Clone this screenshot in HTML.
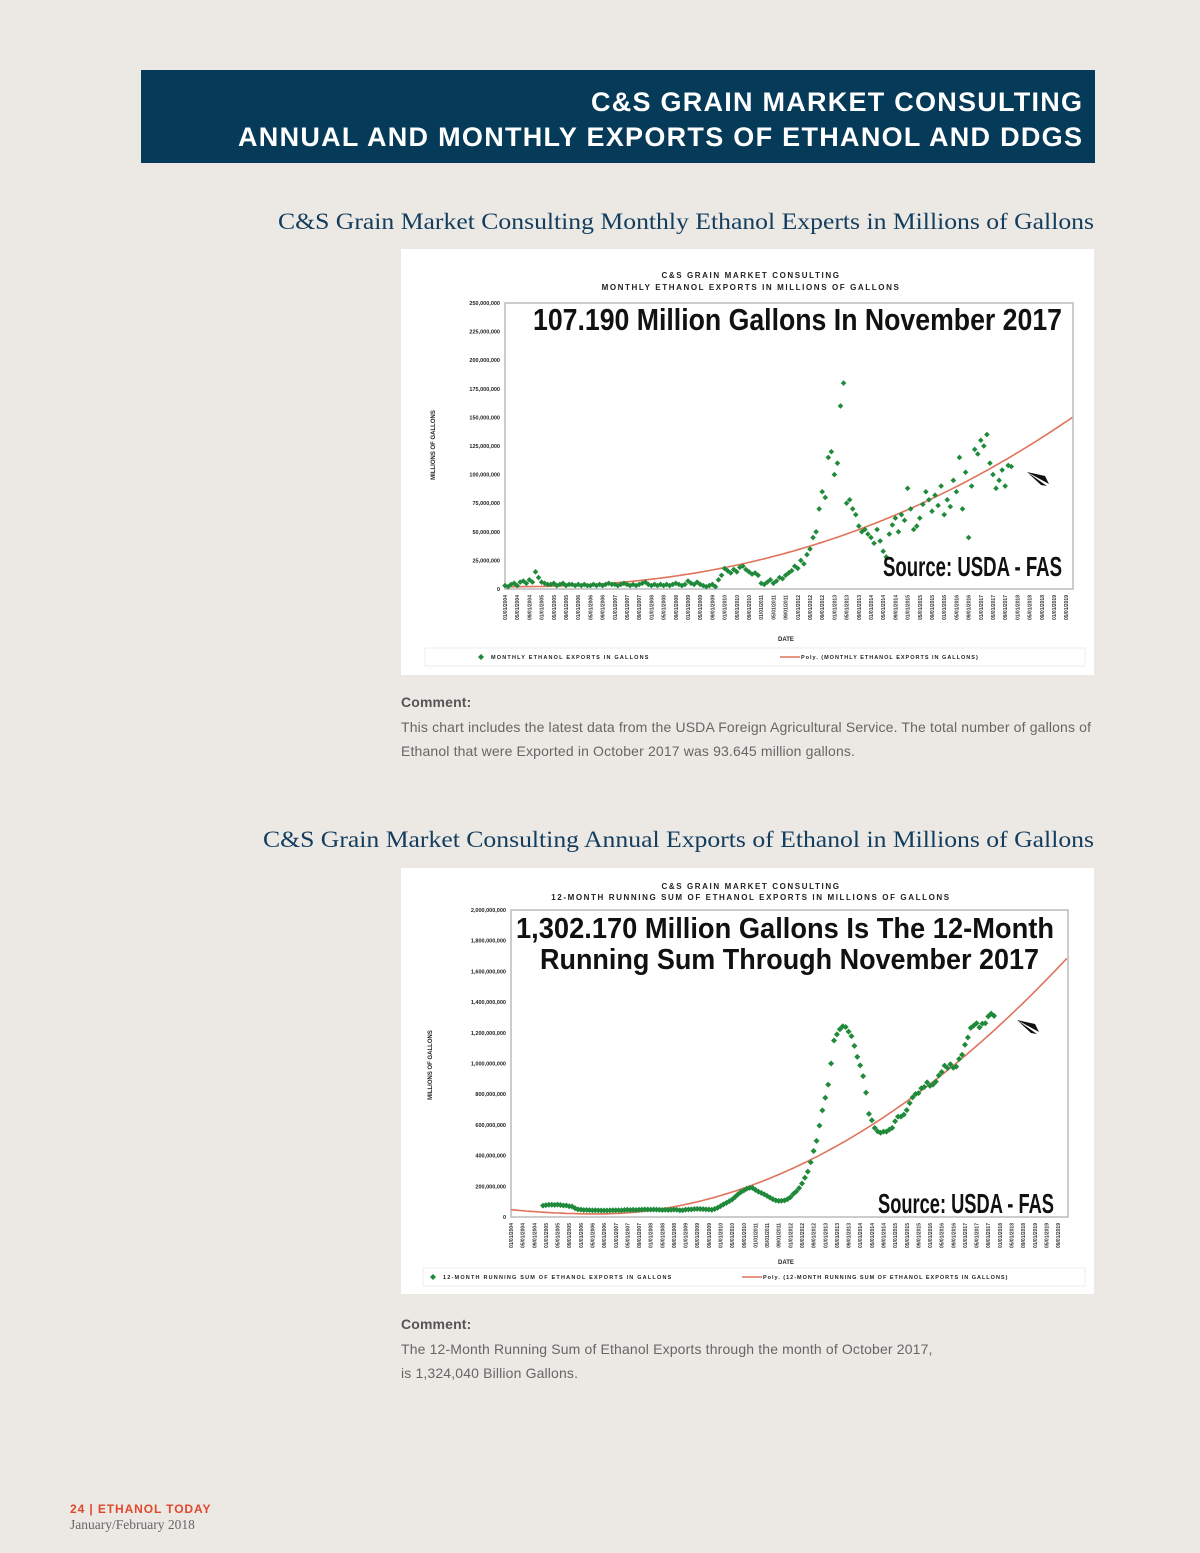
<!DOCTYPE html>
<html><head><meta charset="utf-8">
<style>
body{margin:0;background:#ece9e5;}
#page{position:relative;width:1200px;height:1553px;background:#ece9e5;overflow:hidden;font-family:"Liberation Sans",sans-serif;}
.band{position:absolute;left:141px;top:70px;width:954px;height:93px;background:#053a59;}
.chart{position:absolute;left:401px;width:693px;height:426px;background:#fff;}
.cm{position:absolute;left:401px;font-size:14px;color:#666;line-height:24.5px;letter-spacing:0.15px;}
.cm b{color:#555;}
svg text{font-family:"Liberation Sans",sans-serif;}
</style></head><body>
<div id="page">
<div class="band"></div>
<svg style="position:absolute;left:0;top:0" width="1200" height="260">
 <text x="591" y="111" font-size="27" font-weight="bold" fill="#fff" textLength="491" lengthAdjust="spacing">C&amp;S GRAIN MARKET CONSULTING</text>
 <text x="238" y="146" font-size="27" font-weight="bold" fill="#fff" textLength="844" lengthAdjust="spacing">ANNUAL AND MONTHLY EXPORTS OF ETHANOL AND DDGS</text>
 <text x="278" y="229" font-size="23" fill="#123d5e" style="font-family:'Liberation Serif',serif" textLength="816" lengthAdjust="spacingAndGlyphs">C&amp;S Grain Market Consulting Monthly Ethanol Experts in Millions of Gallons</text>
</svg>
<svg style="position:absolute;left:0;top:800px" width="1200" height="60">
 <text x="263" y="47" font-size="23" fill="#123d5e" style="font-family:'Liberation Serif',serif" textLength="831" lengthAdjust="spacingAndGlyphs">C&amp;S Grain Market Consulting Annual Exports of Ethanol in Millions of Gallons</text>
</svg>
<div class="chart" style="top:249px"><svg id="c1" width="693" height="426"></svg></div>
<div class="cm" style="top:690px;width:700px"><b>Comment:</b><br>This chart includes the latest data from the USDA Foreign Agricultural Service. The total number of gallons of Ethanol that were Exported in October 2017 was 93.645 million gallons.</div>
<div class="chart" style="top:868px"><svg id="c2" width="693" height="426"></svg></div>
<div class="cm" style="top:1312px;width:700px"><b>Comment:</b><br>The 12-Month Running Sum of Ethanol Exports through the month of October 2017,<br>is 1,324,040 Billion Gallons.</div>
<div style="position:absolute;left:70px;top:1502px;color:#e0482c;font-weight:bold;font-size:12px;letter-spacing:0.9px">24 | ETHANOL TODAY</div>
<div style="position:absolute;left:70px;top:1517px;color:#666;font-family:'Liberation Serif',serif;font-size:13.5px">January/February 2018</div>
</div>
<script>
// monthly exports, millions of gallons, Jan 2004 .. Nov 2017
const monthly = [
3,2,4,5,3,6,7,5,8,6,15,10,
6,5,4,4,5,3,4,5,3,4,4,3,
4,3,4,3,3,4,3,4,3,4,5,4,
4,3,4,5,4,3,4,3,4,5,6,4,
3,4,3,4,3,4,3,4,5,4,3,4,
7,5,4,6,4,3,2,3,4,2,8,12,
18,16,14,17,15,19,20,17,15,13,14,12,
5,4,6,8,5,7,10,9,12,14,16,20,
18,25,22,30,35,45,50,70,85,80,115,120,
100,110,160,180,75,78,70,65,55,50,52,48,
45,40,52,42,33,28,48,56,62,50,65,60,
88,70,52,55,62,74,85,78,68,82,73,90,
65,78,72,95,85,115,70,102,45,90,122,118,
130,125,135,110,100,88,95,104,90,108,107];
const runningSum = monthly.map((v,i)=> i<11 ? null : monthly.slice(i-11,i+1).reduce((a,b)=>a+b,0));
const ticks1 = ["250,000,000","225,000,000","200,000,000","175,000,000","150,000,000","125,000,000","100,000,000","75,000,000","50,000,000","25,000,000","0"];
const ticks2 = ["2,000,000,000","1,800,000,000","1,600,000,000","1,400,000,000","1,200,000,000","1,000,000,000","800,000,000","600,000,000","400,000,000","200,000,000","0"];
const trend1 = {base:2, amp:148, span:186, pow:2.3};
const trend2 = {min:20, minAt:30, left:0.031, k:0.0787, pow:1.96};

const NS="http://www.w3.org/2000/svg";
function mk(svg,tag,attrs,txt){const e=document.createElementNS(NS,tag);for(const k in attrs)e.setAttribute(k,attrs[k]);if(txt!==undefined)e.textContent=txt;svg.appendChild(e);return e;}
function dateLabel(i){const m=(i%12)+1,y=2004+Math.floor(i/12);return (m<10?"0":"")+m+"/01/"+y;}

function drawChart(svg,o){
  const X=i=>o.x0+(i-o.iStart)*o.pxm;
  const Y=v=>o.y0-v/o.vmax*(o.y0-o.yT);
  let e=mk(svg,'rect',{x:o.x0,y:o.yT,width:o.x1-o.x0,height:o.y0-o.yT,fill:'none',stroke:'#bbb','stroke-width':1.5});
  
  o.titles.forEach((t,k)=>{const tt=mk(svg,'text',{x:o.tcx,y:o.ty[k],'text-anchor':'middle','font-size':8,'font-weight':'bold',fill:'#222','letter-spacing':1.6},t);
    });
  o.ticks.forEach((t,k)=>{const yy=o.yT+k*(o.y0-o.yT)/(o.ticks.length-1);
    const tt=mk(svg,'text',{x:o.x0-5,y:yy+2,'text-anchor':'end','font-size':5.5,'font-weight':'bold',fill:'#222'},t);
    });
  const yt=mk(svg,'text',{x:0,y:0,transform:`translate(${o.ytx},${o.yty}) rotate(-90)`,'text-anchor':'middle','font-size':6,'font-weight':'bold',fill:'#222'},'MILLIONS OF GALLONS');
  
  for(let i=o.iStart;X(i)<=o.x1+1;i+=4){
    const tt=mk(svg,'text',{x:0,y:0,transform:`translate(${X(i)+2},${o.y0+6}) rotate(-90)`,'text-anchor':'end','font-size':5,'font-weight':'bold',fill:'#333'},dateLabel(i));
    }
  const dt=mk(svg,'text',{x:o.datex,y:o.datey,'text-anchor':'middle','font-size':6,'font-weight':'bold',fill:'#222'},'DATE');
  
  let d='';for(let i=o.iStart;X(i)<=o.x1;i+=1){const v=o.trend(i);d+=(d?'L':'M')+X(i).toFixed(1)+','+Y(v).toFixed(1);}
  const tl=mk(svg,'path',{d:d,fill:'none',stroke:'#e0735a','stroke-width':1.6});
  
  o.data.forEach((v,i)=>{if(v===null)return;const cx=X(i),cy=Y(v),s=o.ms;
    const p=mk(svg,'path',{d:`M${cx},${cy-s}L${cx+s},${cy}L${cx},${cy+s}L${cx-s},${cy}Z`,fill:'#1f8a3a'});
    });
  o.ann.forEach(a=>{const t=mk(svg,'text',{x:a.x,y:a.y,'font-size':a.fs,fill:'#111','font-weight':a.b?'bold':'normal','textLength':a.w,'lengthAdjust':'spacingAndGlyphs'},a.t);
    });
  const ar=mk(svg,'path',{d:`M${o.arx},${o.ary} l22,12 l-4,-8 z M${o.arx},${o.ary} l20,14 l-6,-1z`,fill:'#111'});
  
  const lb=mk(svg,'rect',{x:o.lg.x,y:o.lg.y-9,width:o.lg.w,height:18,fill:'none',stroke:'#eee'});
  
  const lm=mk(svg,'path',{d:`M${o.lg.m},${o.lg.y-3}l3,3l-3,3l-3,-3z`,fill:'#1f8a3a'});
  
  const l1=mk(svg,'text',{x:o.lg.m+10,y:o.lg.y+2,'font-size':5.5,'font-weight':'bold',fill:'#222','letter-spacing':1.2},o.lg.t1);
  
  const ll=mk(svg,'line',{x1:o.lg.r,y1:o.lg.y,x2:o.lg.r+20,y2:o.lg.y,stroke:'#e0735a','stroke-width':1.5});
  
  const l2=mk(svg,'text',{x:o.lg.r+21,y:o.lg.y+2,'font-size':5.5,'font-weight':'bold',fill:'#222','letter-spacing':1.0},o.lg.t2);
  
}

drawChart(document.getElementById('c1'),{
  x0:104,x1:672,y0:340,yT:54,vmax:250,iStart:0,pxm:3.05,data:monthly,ms:2.8,
  trend:i=>trend1.base+trend1.amp*Math.pow(i/trend1.span,trend1.pow),
  titles:["C&S GRAIN MARKET CONSULTING","MONTHLY ETHANOL EXPORTS IN MILLIONS OF GALLONS"],tcx:350,ty:[29,41],
  ticks:ticks1,ytx:34,yty:196,datex:385,datey:392,
  ann:[{t:"107.190 Million Gallons In November 2017",x:132,y:81,fs:31,w:529,b:true,n:"headline-annotation"},
       {t:"Source: USDA - FAS",x:482,y:327,fs:28,w:179,b:true,n:"source-annotation"}],
  arx:626,ary:223,
  lg:{x:24,y:408,w:660,m:80,r:379,t1:"MONTHLY ETHANOL EXPORTS IN GALLONS",t2:"Poly. (MONTHLY ETHANOL EXPORTS IN GALLONS)"}
});
drawChart(document.getElementById('c2'),{
  x0:110,x1:667,y0:349,yT:42,vmax:2000,iStart:0,pxm:2.91,data:runningSum,ms:3,
  trend:i=>i<trend2.minAt?trend2.min+trend2.left*Math.pow(trend2.minAt-i,2):trend2.min+trend2.k*Math.pow(i-trend2.minAt,trend2.pow),
  titles:["C&S GRAIN MARKET CONSULTING","12-MONTH RUNNING SUM OF ETHANOL EXPORTS IN MILLIONS OF GALLONS"],tcx:350,ty:[21,32],
  ticks:ticks2,ytx:31,yty:197,datex:385,datey:396,
  ann:[{t:"1,302.170 Million Gallons Is The 12-Month",x:115,y:70,fs:29,w:538,b:true,n:"headline-annotation-line1"},
       {t:"Running Sum Through November 2017",x:139,y:101,fs:29,w:499,b:true,n:"headline-annotation-line2"},
       {t:"Source: USDA - FAS",x:477,y:345,fs:28,w:176,b:true,n:"source-annotation"}],
  arx:616,ary:152,
  lg:{x:22,y:409,w:662,m:32,r:341,t1:"12-MONTH RUNNING SUM OF ETHANOL EXPORTS IN GALLONS",t2:"Poly. (12-MONTH RUNNING SUM OF ETHANOL EXPORTS IN GALLONS)"}
});
</script>
</body></html>
